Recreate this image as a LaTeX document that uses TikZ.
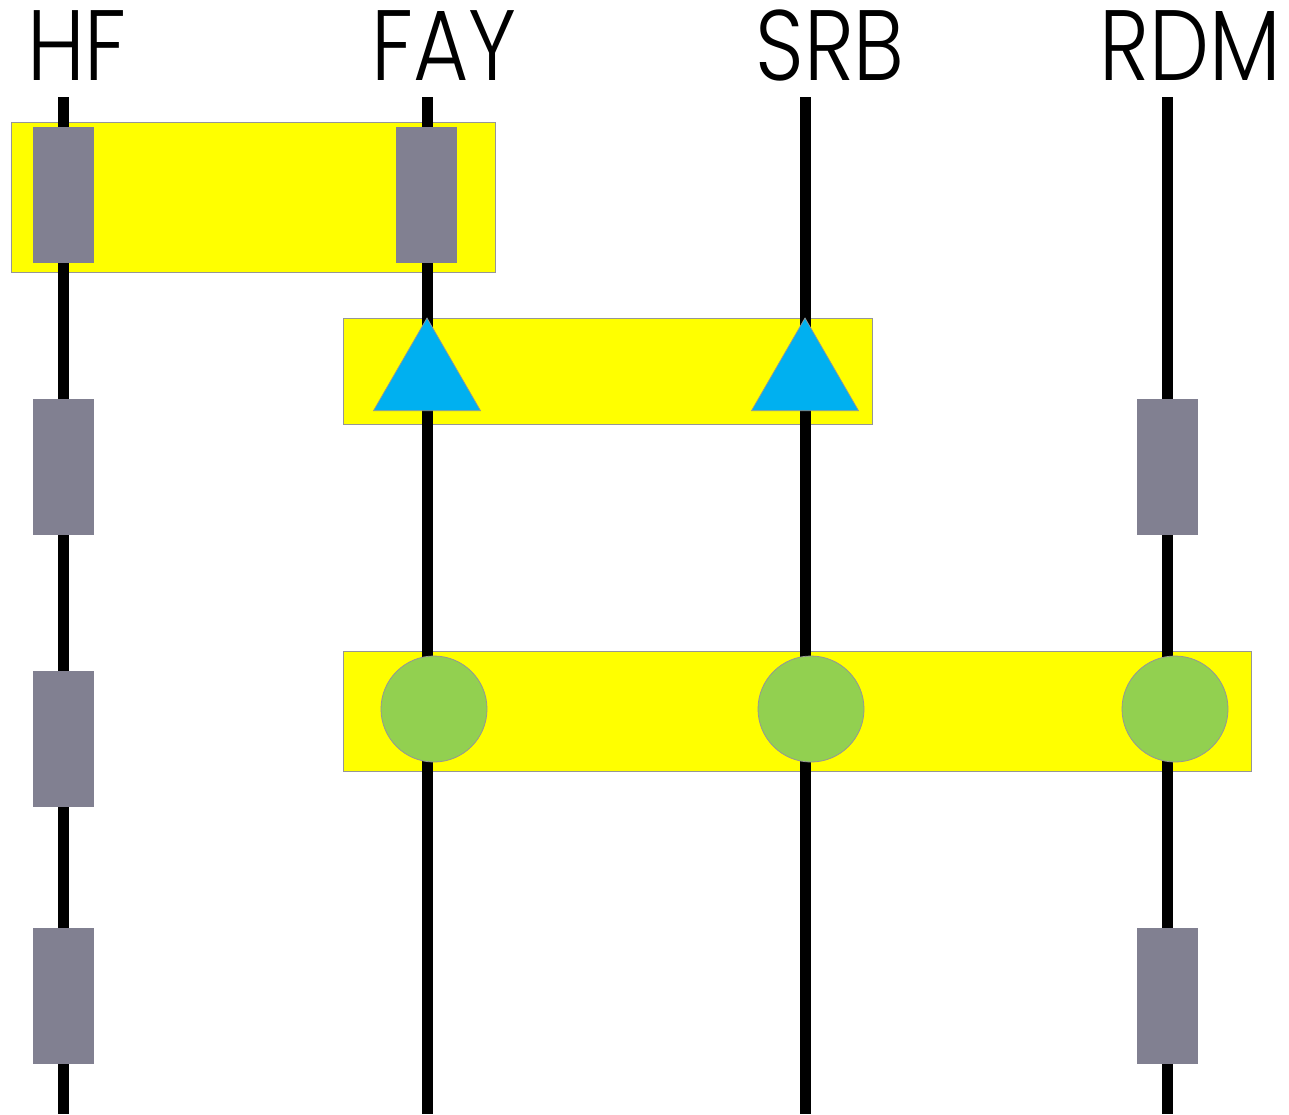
\documentclass[tikz,border=0pt]{standalone}
\usepackage{fontspec}
\setmainfont{Poppins}[UprightFont=* Light, FakeStretch=0.85]
\usetikzlibrary{shapes.geometric}
\definecolor{blockgray}{RGB}{129,128,145}
\definecolor{triblue}{RGB}{0,176,240}
\definecolor{circgreen}{RGB}{146,208,80}
\definecolor{edgegray}{RGB}{150,150,150}
\definecolor{boxyellow}{RGB}{255,255,0}
\begin{document}
\begin{tikzpicture}[x=1pt,y=-1pt,
  lifeline/.style={line width=11pt},
  groupbox/.style={draw=edgegray, line width=1pt, fill=boxyellow},
  block/.style={fill=blockgray, minimum width=61pt, minimum height=136pt, inner sep=0pt, outer sep=0pt},
  tribox/.style={regular polygon, regular polygon sides=3, fill=triblue, draw=edgegray, line width=0.7pt, minimum size=123.6pt, inner sep=0pt, outer sep=0pt},
  circbox/.style={circle, fill=circgreen, draw=edgegray, line width=0.8pt, minimum size=106pt, inner sep=0pt, outer sep=0pt},
  title/.style={anchor=base, font=\fontsize{100}{100}\selectfont, inner sep=0pt}
]
\useasboundingbox (0,0) rectangle (1289,1114);
% titles
\node[title] (tHF)  at (77,80)   {HF};
\node[title] (tFAY) at (444,80)  {FAY};
\node[title] (tSRB) at (830,80)  {SRB};
\node[title] (tRDM) at (1190,80) {RDM};
% group boxes
\path[groupbox] (11,122) rectangle (495,272);
\path[groupbox] (343,318) rectangle (872,424);
\path[groupbox] (343,651) rectangle (1251,771);
% lifeline ends
\coordinate (hfT) at (63.5,97);   \coordinate (hfB) at (63.5,1114);
\coordinate (fayT) at (427,97);   \coordinate (fayB) at (427,1114);
\coordinate (srbT) at (805,97);   \coordinate (srbB) at (805,1114);
\coordinate (rdmT) at (1167,97);  \coordinate (rdmB) at (1167,1114);
\draw[lifeline] (hfT) -- (hfB);
\draw[lifeline] (fayT) -- (fayB);
\draw[lifeline] (srbT) -- (srbB);
\draw[lifeline] (rdmT) -- (rdmB);
% gray blocks
\node[block] (hf1) at (63.5,195) {};
\node[block] (fay1) at (426.5,195) {};
\node[block] (hf2) at (63.5,467) {};
\node[block] (hf3) at (63.5,739) {};
\node[block] (hf4) at (63.5,996) {};
\node[block] (rdm1) at (1167,467) {};
\node[block] (rdm2) at (1167,996) {};
% triangles
\node[tribox] (fayTri) at (427,379.8) {};
\node[tribox] (srbTri) at (805,379.8) {};
% circles
\node[circbox] (fayC) at (434,709) {};
\node[circbox] (srbC) at (811,709) {};
\node[circbox] (rdmC) at (1175,709) {};
\end{tikzpicture}
\end{document}
